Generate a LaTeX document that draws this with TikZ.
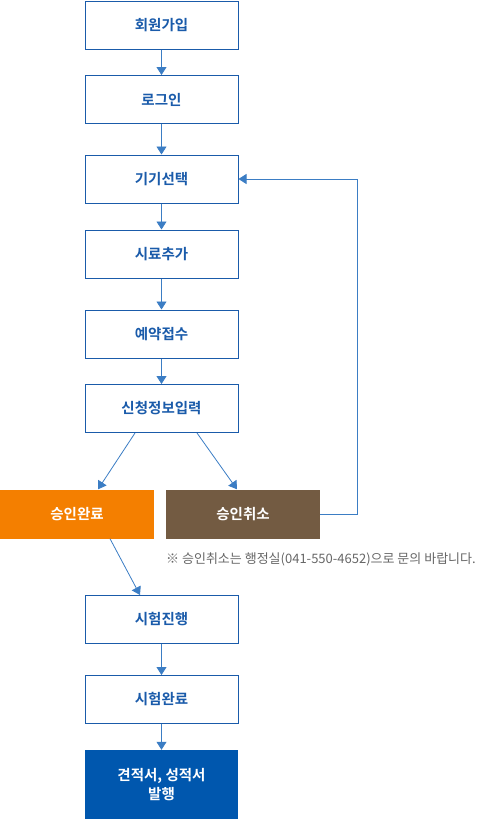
\documentclass[tikz,border=0pt]{standalone}
\usepackage{fontspec}
\newfontfamily\kr{Noto Sans CJK KR}
\newfontfamily\krb{Noto Sans CJK KR Bold}
\usetikzlibrary{arrows.meta}
\definecolor{boxblue}{HTML}{1A5BAA}
\definecolor{arrowblue}{HTML}{3B7DC4}
\definecolor{orangec}{HTML}{F47F00}
\definecolor{brownc}{HTML}{735B42}
\definecolor{darkblue}{HTML}{0057AE}
\definecolor{notegray}{HTML}{666666}
\tikzset{
  stepbox/.style={draw=boxblue, line width=1pt, fill=white, minimum width=153pt, minimum height=48pt, inner sep=0pt, text=boxblue, font=\krb\fontsize{14.5}{16}\selectfont},
  filledbox/.style={minimum width=154pt, minimum height=49pt, inner sep=0pt, text=white, font=\krb\fontsize{14.5}{16}\selectfont},
  arr/.style={draw=arrowblue, line width=0.8pt, -{Triangle[width=10pt,length=8pt]}, arrowblue}
}
\begin{document}
\begin{tikzpicture}[x=1pt,y=-1pt]
\useasboundingbox (0,0) rectangle (480,819);
\node[stepbox] (b1) at (161.5,25) {회원가입};
\node[stepbox] (b2) at (161.5,99.5) {로그인};
\node[stepbox] (b3) at (161.5,179) {기기선택};
\node[stepbox] (b4) at (161.5,254) {시료추가};
\node[stepbox] (b5) at (161.5,334) {예약접수};
\node[stepbox] (b6) at (161.5,408.5) {신청정보입력};
\node[filledbox, fill=orangec] (ok) at (77,514) {승인완료};
\node[filledbox, fill=brownc] (cancel) at (243,514) {승인취소};
\node[anchor=west, text=notegray, font=\kr\fontsize{13}{14}\selectfont, inner sep=0pt] (note) at (166,559) {※ 승인취소는 행정실(041-550-4652)으로 문의 바랍니다.};
\node[stepbox] (b7) at (161.5,619.5) {시험진행};
\node[stepbox] (b8) at (161.5,699.5) {시험완료};
\node[filledbox, fill=darkblue, minimum width=153pt, minimum height=69pt, align=center, font=\krb\fontsize{14.5}{19}\selectfont] (b9) at (161.5,784.5) {견적서, 성적서\\발행};
\draw[arr] (b1) -- (b2);
\draw[arr] (b2) -- (b3);
\draw[arr] (b3) -- (b4);
\draw[arr] (b4) -- (b5);
\draw[arr] (b5) -- (b6);
\draw[arr] (b6.south -| 135,0) -- (ok.north -| 98,0);
\draw[arr] (b6.south -| 197,0) -- (cancel.north -| 237,0);
\draw[arr] (ok.south -| 110,0) -- (b7.north -| 140,0);
\draw[arr] (b7) -- (b8);
\draw[arr] (b8) -- (b9);
\coordinate (c1) at (357,514);
\coordinate (c2) at (357,179);
\draw[arr] (cancel.east) -- (c1) -- (c2) -- (b3.east);
\end{tikzpicture}
\end{document}
